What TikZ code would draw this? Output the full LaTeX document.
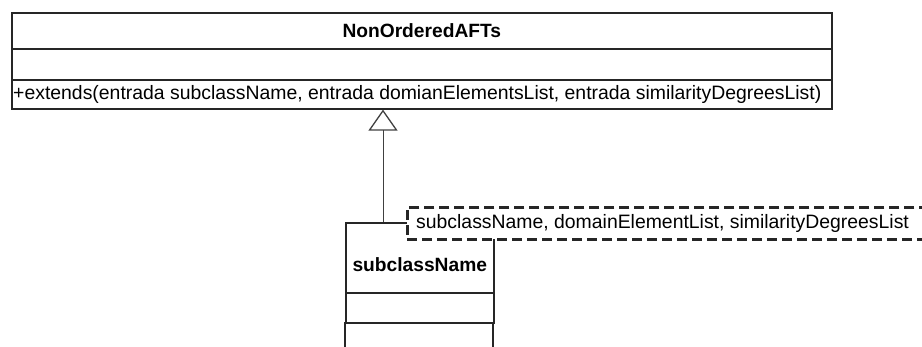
\documentclass[tikz,border=0pt]{standalone}
\usepackage{fontspec}
\setmainfont{Liberation Sans}
\usetikzlibrary{arrows.meta,calc}
\begin{document}
\begin{tikzpicture}[x=1pt,y=-1pt,
  box/.style={draw=black!85,line width=1.6pt,rectangle,inner sep=0pt,anchor=north west},
  lbl/.style={font=\fontsize{19.4}{21}\selectfont,inner sep=0pt},
  title/.style={font=\fontsize{19.2}{21}\selectfont\bfseries,inner sep=0pt},
  gen/.style={draw=black!75,line width=0.9pt,-{Triangle[open,length=21pt,width=29pt,line width=1.3pt]}},
  tmpl/.style={draw=black!85,fill=white,line width=2.6pt,dash pattern=on 10pt off 5pt,rectangle,inner sep=0pt,anchor=north west}]
\useasboundingbox (0,0) rectangle (922,347);

% superclass NonOrderedAFTs
\node[box,minimum width=820pt,minimum height=36pt] (topname) at (11,12) {};
\node[box,minimum width=820pt,minimum height=31pt] (topattr) at (11,48) {};
\node[box,minimum width=820pt,minimum height=29pt] (topmeth) at (11,79) {};
\node[title] (toptitle) at (topname.center) {NonOrderedAFTs};
\node[lbl,anchor=west] (topop) at ($(topmeth.west)+(2,0)$) {+extends(entrada subclassName, entrada domianElementsList, entrada similarityDegreesList)};

% subclass subclassName
\node[box,minimum width=148pt,minimum height=70pt] (subname) at (345,222) {};
\node[box,minimum width=148pt,minimum height=30pt] (subattr) at (345,292) {};
\coordinate (submethw) at (345,322);
\coordinate (submethe) at (493,322);
\draw[draw=black!85,line width=1.6pt] (submethw) -- ++(0,30) (submethe) -- ++(0,30);
\node[title] (subtitle) at ($(subname.center)+(0,7)$) {subclassName};

% generalization
\draw[gen] (subname.north west) ++(38,0) coordinate (gfoot) -- (gfoot |- topmeth.south);

% template parameters
\node[tmpl,minimum width=530pt,minimum height=32pt] (tparam) at (406,206) {};
\node[lbl,anchor=west] (tparamtxt) at ($(tparam.west)+(10,0)$) {subclassName, domainElementList, similarityDegreesList};
\end{tikzpicture}
\end{document}
